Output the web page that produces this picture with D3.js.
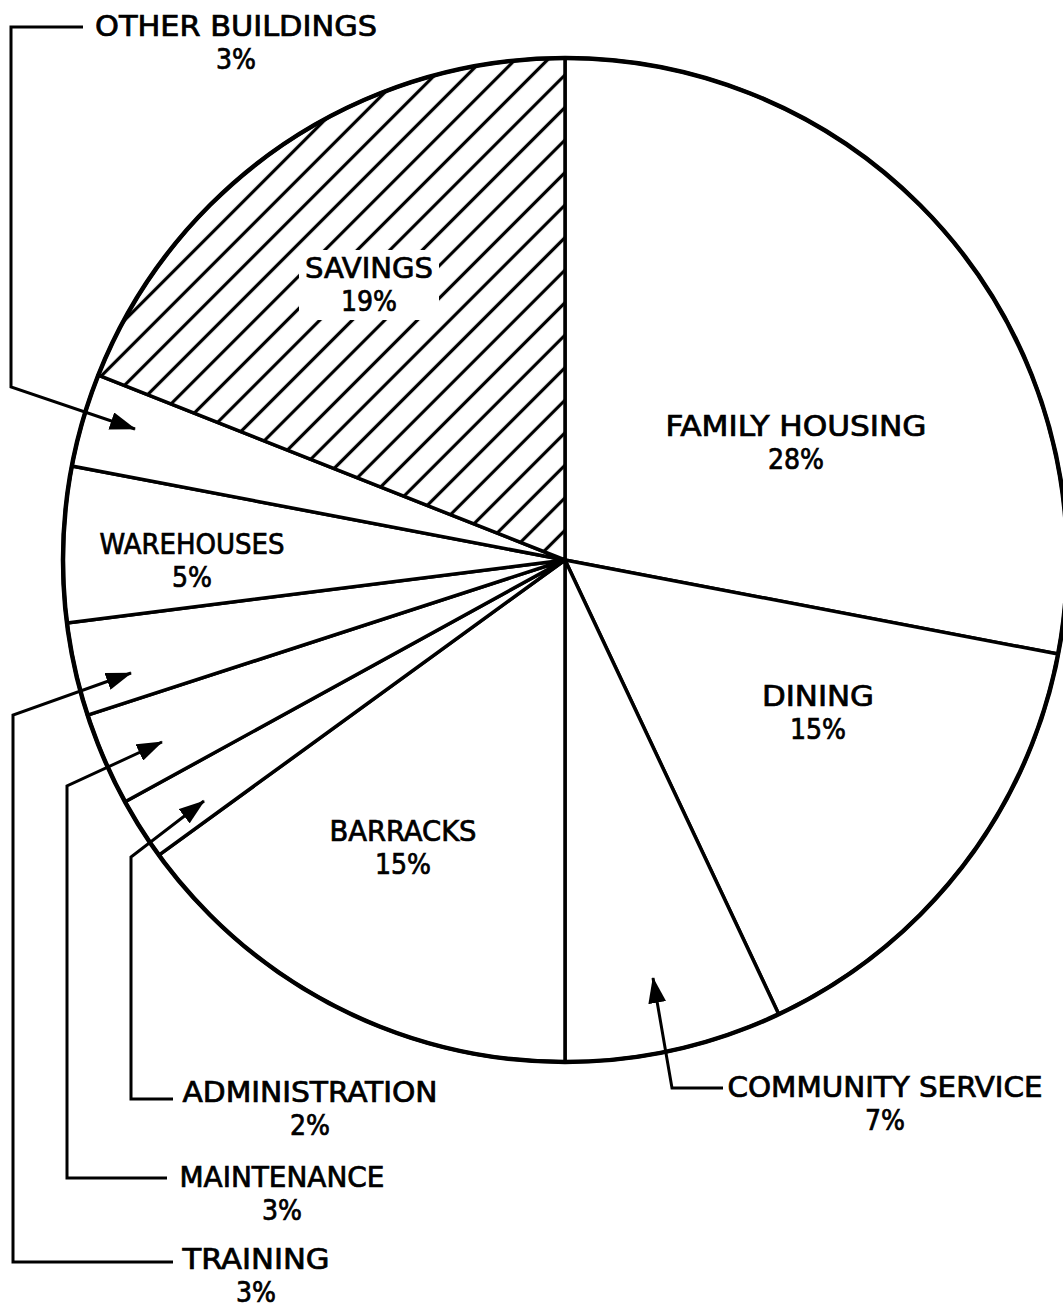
<!DOCTYPE html>
<html>
<head>
<meta charset="utf-8">
<script src="https://cdn.jsdelivr.net/npm/d3@7"></script>
<style>
  html, body { margin: 0; padding: 0; background: #fff; }
  svg { display: block; }
  text { font-family: "DejaVu Sans Condensed", "DejaVu Sans", sans-serif; font-stretch: condensed; fill: #000; stroke: #000; stroke-width: 0.7px; }
</style>
</head>
<body>
<svg id="chart" width="1063" height="1308"></svg>
<script>
// ---- data (clockwise from 12 o'clock) ----
const categories = ["FAMILY HOUSING", "DINING", "COMMUNITY SERVICE", "BARRACKS", "ADMINISTRATION",
                    "MAINTENANCE", "TRAINING", "WAREHOUSES", "OTHER BUILDINGS", "SAVINGS"];
const percents = [28, 15, 7, 15, 2, 3, 3, 5, 3, 19];
const hatched = ["SAVINGS"];

// ---- layout (positions only) ----
const cx = 565, cy = 560, R = 502;
const labelLayout = {
  "FAMILY HOUSING":   {x: 796, y: 436, w: 261, py: 469},
  "DINING":           {x: 818, y: 706, w: 112, py: 739},
  "COMMUNITY SERVICE":{x: 885, y: 1097, w: 315, py: 1130},
  "BARRACKS":         {x: 403, y: 841, w: 147, py: 874},
  "ADMINISTRATION":   {x: 310, y: 1102, w: 255, py: 1135},
  "MAINTENANCE":      {x: 282, y: 1187, w: 205, py: 1220},
  "TRAINING":         {x: 256, y: 1269, w: 147, py: 1302},
  "WAREHOUSES":       {x: 192, y: 554, w: 185, py: 587},
  "OTHER BUILDINGS":  {x: 236, y: 36, w: 282, py: 69},
  "SAVINGS":          {x: 369, y: 278, w: 128, py: 311}
};
const callouts = {
  "OTHER BUILDINGS":   [[83, 27], [11, 27], [11, 387], [135, 429]],
  "TRAINING":          [[173, 1262], [13, 1262], [13, 715], [131, 673]],
  "MAINTENANCE":       [[167, 1178], [67, 1178], [67, 786], [162, 742]],
  "ADMINISTRATION":    [[173, 1099], [131, 1099], [131, 857], [204, 801]],
  "COMMUNITY SERVICE": [[723, 1088], [672, 1088], [653, 978]]
};

const svg = d3.select("#chart");
const defs = svg.append("defs");

// hatch pattern
const sp = 23;
const pat = defs.append("pattern")
  .attr("id", "hatch")
  .attr("patternUnits", "userSpaceOnUse")
  .attr("x", cx).attr("y", cy)
  .attr("width", sp).attr("height", sp)
  .attr("patternTransform", `rotate(45 ${cx} ${cy})`);
pat.append("rect").attr("width", sp).attr("height", sp).attr("fill", "#fff");
pat.append("line").attr("x1", sp / 2).attr("y1", -1).attr("x2", sp / 2).attr("y2", sp + 1)
  .attr("stroke", "#000").attr("stroke-width", 3.2);

// arrow marker
defs.append("marker")
  .attr("id", "arrow")
  .attr("markerUnits", "userSpaceOnUse")
  .attr("viewBox", "0 0 26 18")
  .attr("refX", 25).attr("refY", 9)
  .attr("markerWidth", 26).attr("markerHeight", 18)
  .attr("orient", "auto")
  .append("path")
  .attr("d", "M0,0 L26,9 L0,18 Z")
  .attr("fill", "#000");

const data = categories.map((c, i) => ({name: c, value: percents[i]}));
const pie = d3.pie().sort(null).value(d => d.value).startAngle(0).endAngle(2 * Math.PI);
const arc = d3.arc().innerRadius(0).outerRadius(R);

const g = svg.append("g").attr("transform", `translate(${cx},${cy})`);
g.selectAll("path.slice")
  .data(pie(data))
  .join("path")
  .attr("class", "slice")
  .attr("d", arc)
  .attr("fill", d => hatched.includes(d.data.name) ? "url(#hatch)" : "#fff")
  .attr("stroke", "#000")
  .attr("stroke-width", 3.5)
  .attr("stroke-linejoin", "round");

g.append("circle").attr("r", R).attr("fill", "none").attr("stroke", "#000").attr("stroke-width", 4.5);

// callout lines
const line = d3.line();
svg.selectAll("path.callout")
  .data(Object.entries(callouts))
  .join("path")
  .attr("class", "callout")
  .attr("d", d => line(d[1]))
  .attr("fill", "none")
  .attr("stroke", "#000")
  .attr("stroke-width", 3)
  .attr("stroke-linejoin", "miter")
  .attr("marker-end", "url(#arrow)");

// labels
const fs = 28;
const labels = svg.append("g");
data.forEach(d => {
  const L = labelLayout[d.name];
  if (hatched.includes(d.name)) {
    labels.append("rect").attr("x", L.x - L.w / 2 - 6).attr("y", L.y - 28)
      .attr("width", L.w + 12).attr("height", 70).attr("fill", "#fff");
  }
  labels.append("text")
    .attr("x", L.x - L.w / 2).attr("y", L.y)
    .attr("textLength", L.w).attr("lengthAdjust", "spacingAndGlyphs")
    .attr("font-size", fs)
    .text(d.name);
  labels.append("text")
    .attr("x", L.x).attr("y", L.py)
    .attr("text-anchor", "middle")
    .attr("font-size", fs)
    .text(d.value + "%");
});
</script>
</body>
</html>
